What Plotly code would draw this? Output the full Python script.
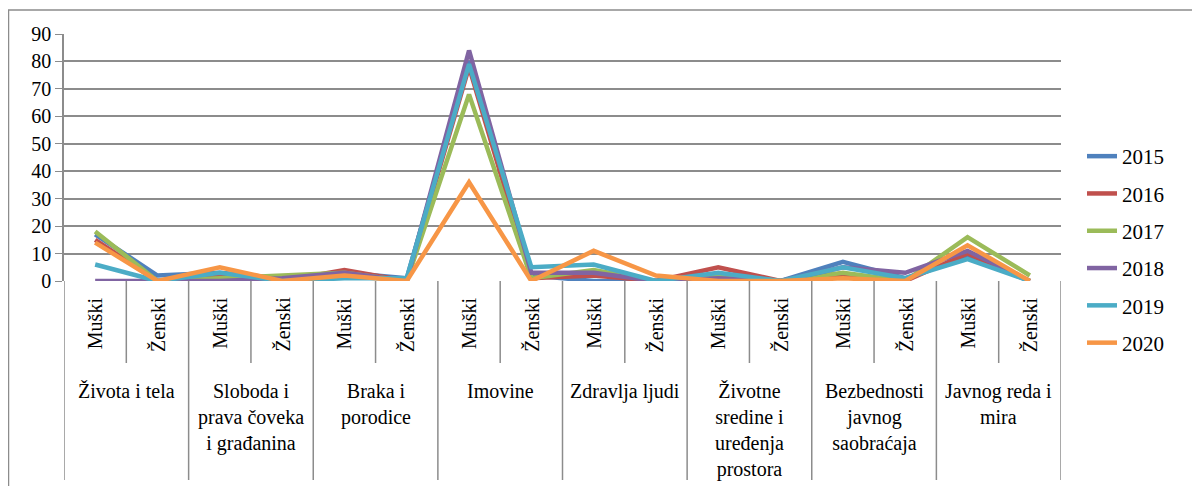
import plotly.graph_objects as go

# ---- data ----
groups = ["Života i tela", "Sloboda i<br>prava čoveka<br>i građanina", "Braka i<br>porodice",
          "Imovine", "Zdravlja ljudi", "Životne<br>sredine i<br>uređenja<br>prostora",
          "Bezbednosti<br>javnog<br>saobraćaja", "Javnog reda i<br>mira"]
sexes = ["Muški", "Ženski"]
years = ["2015", "2016", "2017", "2018", "2019", "2020"]
v2015 = [17, 2, 3, 1, 3, 1, 80, 2, 0, 0, 2, 0, 7, 1, 9, 0]
v2016 = [15, 0, 2, 0, 4, 0, 78, 1, 2, 0, 5, 0, 2, 0, 10, 0]
v2017 = [18, 0, 1, 2, 3, 0, 68, 1, 4, 0, 2, 0, 3, 0, 16, 2]
v2018 = [0, 0, 0, 1, 3, 0, 84, 3, 3, 0, 1, 0, 5, 3, 11, 0]
v2019 = [6, 0, 3, 0, 1, 1, 79, 5, 6, 0, 3, 0, 5, 1, 8, 0]
v2020 = [14, 0, 5, 0, 2, 0, 36, 0, 11, 2, 0, 0, 1, 0, 13, 0]
series = [v2015, v2016, v2017, v2018, v2019, v2020]
colors = ["#4F81BD", "#C0504D", "#9BBB59", "#8064A2", "#4BACC6", "#F79646"]
yticks = [0, 10, 20, 30, 40, 50, 60, 70, 80, 90]

FONT = "Liberation Serif"
OFF = 8  # page body margin
W, H = 1192, 478
L, T = 56, 26
PW, PH = 997, 247
R, B = W - L - PW, H - T - PH

def py(p):  # reference pixel y -> paper y
    return (T + PH - (p - OFF)) / PH

def px(p):  # reference pixel x -> paper x
    return (p - OFF - L) / PW

n = len(groups) * len(sexes)
xs = list(range(n))

fig = go.Figure()
for yr, vals, c in zip(years, series, colors):
    fig.add_trace(go.Scatter(x=xs, y=vals, mode="lines", name=yr, legendgroup=yr,
                             line=dict(color=c, width=4.5)))

shapes = []
# outer border
shapes.append(dict(type="rect", xref="paper", yref="paper", x0=px(8.5), x1=px(1230),
                   y0=py(520), y1=py(10), line=dict(color="#8c8c8c", width=1.5)))
# category separators
for i in range(n + 1):
    xv = i - 0.5
    long = (i % 2 == 0)
    shapes.append(dict(type="line", xref="x", yref="paper", x0=xv, x1=xv,
                       y0=0, y1=py(480 if long else 363),
                       line=dict(color="#8c8c8c", width=1.5)))

annotations = []
for i in range(n):
    annotations.append(dict(x=i, y=py(295), xref="x", yref="paper", text=sexes[i % 2],
                            textangle=-90, showarrow=False, xanchor="center", yanchor="top",
                            font=dict(family=FONT, size=20, color="#000")))
for g, name in enumerate(groups):
    annotations.append(dict(x=2 * g + 0.5, y=py(378), xref="x", yref="paper", text=name,
                            showarrow=False, xanchor="center", yanchor="top", align="center",
                            font=dict(family=FONT, size=20, color="#000")))

fig.update_layout(
    width=W, height=H,
    margin=dict(l=L, r=R, t=T, b=B),
    paper_bgcolor="white", plot_bgcolor="white",
    font=dict(family=FONT, size=20, color="#000"),
    xaxis=dict(range=[-0.5, n - 0.5], showticklabels=False, showgrid=False,
               zeroline=False, showline=False, ticks=""),
    yaxis=dict(range=[0, 90], tickvals=yticks, showgrid=True, gridcolor="#8c8c8c",
               gridwidth=1.5, zeroline=False, showline=True, linecolor="#8c8c8c",
               linewidth=1.5, ticks="outside", ticklen=7, tickcolor="#8c8c8c",
               tickfont=dict(family=FONT, size=20, color="#000")),
    showlegend=True,
    legend=dict(x=px(1082), y=py(136), xanchor="left", yanchor="top",
                font=dict(family=FONT, size=21, color="#000"),
                tracegroupgap=7, bgcolor="rgba(0,0,0,0)"),
    shapes=shapes, annotations=annotations,
)
fig.write_html("out.html", config={"displayModeBar": False})
